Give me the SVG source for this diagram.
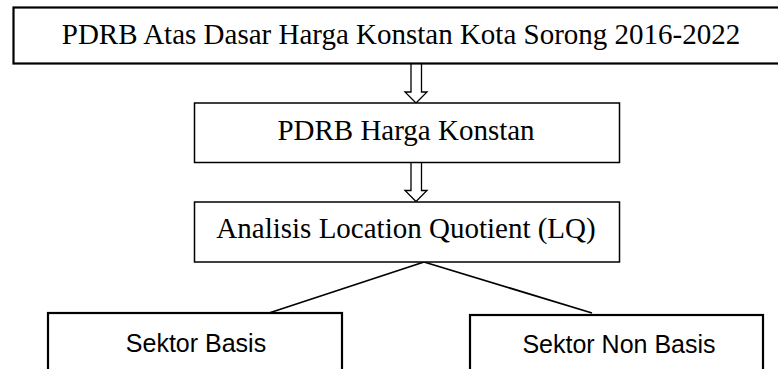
<svg xmlns="http://www.w3.org/2000/svg" width="778" height="369" viewBox="0 0 778 369">
  <style>
    .box { fill: #ffffff; stroke: #000000; }
    .thick { stroke-width: 2.2; }
    .thin { stroke-width: 1.5; }
    .serif { font-family: "Liberation Serif", "Times New Roman", serif; font-size: 29px; fill: #000000; text-anchor: middle; }
    .sans { font-family: "Liberation Sans", Arial, sans-serif; font-size: 25px; fill: #000000; text-anchor: middle; }
    .arrow { fill: #ffffff; stroke: #000000; stroke-width: 1.3; stroke-linejoin: miter; }
    .link { fill: none; stroke: #000000; stroke-width: 1.8; }
  </style>

  <!-- hollow block arrows and branch lines -->
  <g id="connectors">
    <path class="arrow" d="M411,64 V92 H405 L416,103 L427,92 H421.5 V64"/>
    <path class="arrow" d="M411,162.5 V190.5 H405 L416,201.5 L427,190.5 H421.5 V162.5"/>
    <line class="link" x1="424" y1="262" x2="269" y2="313"/>
    <line class="link" x1="424" y1="262" x2="592" y2="313"/>
  </g>

  <g id="node-pdrb-adhk">
    <rect class="box thick" x="13.5" y="7.5" width="790" height="56"/>
    <text class="serif" x="401" y="44">PDRB Atas Dasar Harga Konstan Kota Sorong 2016-2022</text>
  </g>

  <g id="node-pdrb-hk">
    <rect class="box thin" x="194.5" y="103" width="425" height="59.5"/>
    <text class="serif" x="406" y="140">PDRB Harga Konstan</text>
  </g>

  <g id="node-lq">
    <rect class="box thin" x="194.5" y="202" width="425" height="60"/>
    <text class="serif" x="406" y="238">Analisis Location Quotient (LQ)</text>
  </g>

  <g id="node-basis">
    <rect class="box thick" x="48" y="313" width="294" height="70"/>
    <text class="sans" x="196" y="352">Sektor Basis</text>
  </g>

  <g id="node-non-basis">
    <rect class="box thick" x="470" y="315" width="293" height="70"/>
    <text class="sans" x="619" y="353">Sektor Non Basis</text>
  </g>
</svg>
